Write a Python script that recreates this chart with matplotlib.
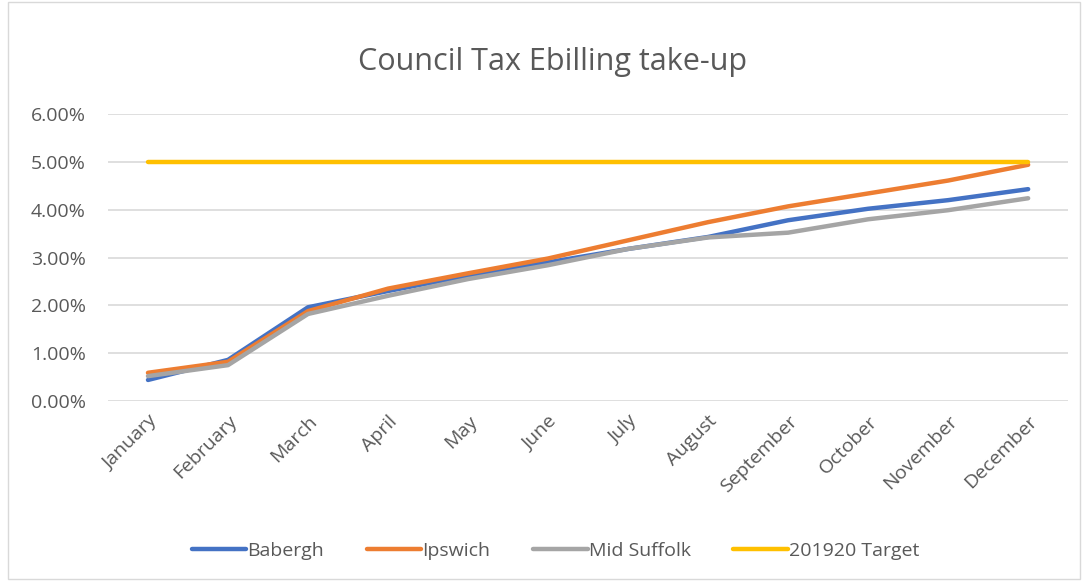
import numpy as np
import matplotlib
matplotlib.use("Agg")
import matplotlib.pyplot as plt
from matplotlib.patches import Rectangle
from matplotlib.ticker import FuncFormatter

months = ["January", "February", "March", "April", "May", "June", "July",
          "August", "September", "October", "November", "December"]
babergh = [0.44, 0.86, 1.96, 2.30, 2.62, 2.90, 3.18, 3.43, 3.78, 4.02, 4.20, 4.43]
ipswich = [0.59, 0.82, 1.88, 2.35, 2.67, 2.98, 3.36, 3.74, 4.07, 4.34, 4.61, 4.94]
mid_suffolk = [0.52, 0.75, 1.82, 2.20, 2.55, 2.84, 3.18, 3.42, 3.52, 3.80, 3.99, 4.24]
target = [5.0] * 12

plt.rcParams['font.family'] = ['Open Sans', 'DejaVu Sans']

fig = plt.figure(figsize=(10.83, 5.82), dpi=100)
ax = fig.add_axes([0.0997, 0.311, 0.8866, 0.493])

x = np.arange(len(months))
series = [
    ("Babergh", babergh, "#4472C4"),
    ("Ipswich", ipswich, "#ED7D31"),
    ("Mid Suffolk", mid_suffolk, "#A5A5A5"),
    ("201920 Target", target, "#FFC000"),
]
for name, vals, col in series:
    ax.plot(x, np.array(vals) / 100, color=col, lw=3.2, label=name,
            solid_capstyle="round", solid_joinstyle="round")

ax.set_xlim(-0.5, len(months) - 0.5)
ax.set_ylim(0, 0.06)
ax.set_yticks(np.arange(0, 0.0601, 0.01))
ax.yaxis.set_major_formatter(FuncFormatter(lambda v, p: f"{v*100:.2f}%"))
ax.set_xticks(x)
ax.set_xticklabels(months, rotation=45, ha="right", rotation_mode="anchor")
ax.grid(axis="y", color="#d9d9d9", lw=1.2)
ax.set_axisbelow(True)
for s in ax.spines.values():
    s.set_visible(False)
ax.tick_params(length=0, colors="#595959", labelsize=14)
ax.tick_params(axis="x", pad=8)
ax.tick_params(axis="y", pad=16)

fig.text(0.51, 0.893, "Council Tax Ebilling take-up", ha="center", va="center",
         fontsize=22, color="#595959")

fig.legend(loc="center", bbox_to_anchor=(0.513, 0.053), ncol=4, frameon=False,
           fontsize=14, labelcolor="#595959", handlelength=2.8,
           handletextpad=0.05, columnspacing=2.2)

fig.patches.append(Rectangle((0.0075, 0.006), 0.99, 0.99, transform=fig.transFigure,
                             fill=False, edgecolor="#d9d9d9", lw=1))

fig.savefig("out.png", dpi=100)
